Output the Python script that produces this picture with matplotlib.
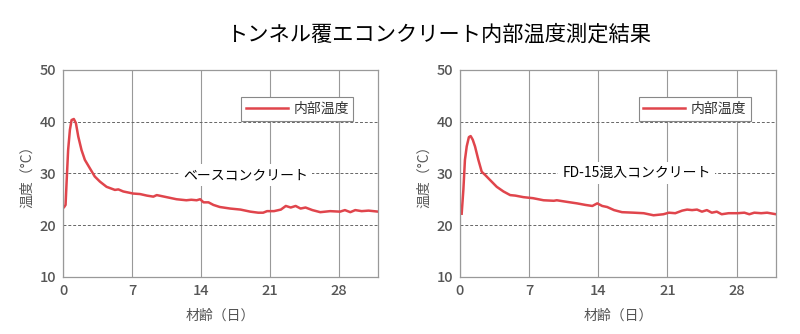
import matplotlib
matplotlib.use('Agg')
import matplotlib.pyplot as plt

plt.rcParams['font.family'] = ['Noto Sans CJK JP', 'DejaVu Sans']

# Base concrete (left panel)
base_day = [0.1, 0.24, 0.34, 0.5, 0.68, 0.85, 1.08, 1.29, 1.53, 1.86, 2.2, 2.7, 3.2, 3.73,
            4.4, 5.25, 5.6, 6.1, 7.1, 7.8, 8.5, 9.15, 9.5, 10.5, 11.5, 12.5, 13.0, 13.55,
            13.9, 14.25, 14.75, 15.25, 15.9, 16.95, 18.0, 19.0, 19.8, 20.3, 20.7, 21.4,
            22.1, 22.6, 23.1, 23.6, 24.1, 24.6, 25.3, 26.1, 27.1, 28.1, 28.6, 29.15,
            29.65, 30.3, 31.0, 32.0]
base_temp = [23.5, 23.9, 28.1, 34.5, 38.4, 40.3, 40.5, 39.7, 37.1, 34.5, 32.6, 31.0, 29.4, 28.4,
             27.4, 26.8, 26.9, 26.5, 26.1, 26.0, 25.7, 25.5, 25.8, 25.4, 25.0, 24.8, 24.9, 24.8,
             25.0, 24.4, 24.4, 23.9, 23.5, 23.2, 23.0, 22.6, 22.4, 22.4, 22.7, 22.7,
             23.0, 23.7, 23.4, 23.7, 23.2, 23.4, 22.9, 22.5, 22.7, 22.6, 22.9, 22.5,
             22.9, 22.7, 22.8, 22.6]

# FD-15 mixed concrete (right panel)
fd_day = [0.17, 0.34, 0.5, 0.68, 0.9, 1.08, 1.29, 1.52, 1.86, 2.2, 2.54, 3.05, 3.72, 4.4,
          5.08, 5.6, 6.43, 7.4, 8.46, 9.5, 9.8, 10.8, 11.85, 12.7, 13.4, 13.9, 14.4, 14.9,
          15.6, 16.4, 17.6, 18.6, 19.6, 20.6, 21.15, 21.8, 22.5, 23.0, 23.5, 24.0, 24.5,
          25.0, 25.5, 26.0, 26.5, 27.2, 28.1, 28.8, 29.3, 29.8, 30.5, 31.1, 32.0]
fd_temp = [22.2, 26.8, 32.6, 35.2, 37.0, 37.2, 36.5, 35.2, 32.6, 30.3, 29.7, 28.7, 27.4, 26.5,
           25.8, 25.7, 25.4, 25.2, 24.8, 24.7, 24.8, 24.5, 24.2, 23.9, 23.7, 24.2, 23.7, 23.5,
           22.9, 22.5, 22.4, 22.3, 21.9, 22.1, 22.4, 22.3, 22.8, 23.0, 22.9, 23.0, 22.6,
           22.9, 22.4, 22.6, 22.1, 22.3, 22.3, 22.4, 22.1, 22.4, 22.3, 22.4, 22.1]

x_ticks = [0, 7, 14, 21, 28]
y_ticks = [10, 20, 30, 40, 50]

panels = [
    ([0.079, 0.171, 0.394, 0.62], base_day, base_temp, 'ベースコンクリート', (18.5, 29.7)),
    ([0.575, 0.171, 0.395, 0.62], fd_day, fd_temp, 'FD-15混入コンクリート', (17.9, 30.1)),
]

line_color = '#e0454c'
tick_color = '#555555'

fig = plt.figure(figsize=(8, 3.34), dpi=100)

for rect, days, temps, note, note_xy in panels:
    ax = fig.add_axes(rect)
    ax.plot(days, temps, color=line_color, lw=1.8, label='内部温度')
    ax.set_xlim(0, 32)
    ax.set_ylim(10, 50)
    ax.set_xticks(x_ticks)
    ax.set_yticks(y_ticks)
    ax.tick_params(length=0, labelsize=10.5, labelcolor=tick_color, pad=5)
    for lab in ax.get_xticklabels() + ax.get_yticklabels():
        lab.set_fontweight('medium')
    ax.xaxis.grid(True, color='#999999', lw=0.8, ls='-')
    ax.yaxis.grid(True, color='#666666', lw=0.7, ls=(0, (3, 2)))
    ax.set_axisbelow(True)
    for s in ax.spines.values():
        s.set_color('#999999')
        s.set_linewidth(0.9)
    ax.set_xlabel('材齢（日）', color=tick_color, fontsize=10, labelpad=8)
    ax.set_ylabel('温度（°C）', color=tick_color, fontsize=10, labelpad=4)
    ax.text(note_xy[0], note_xy[1], note, ha='center', va='center', fontsize=10,
            color='black', bbox=dict(facecolor='white', edgecolor='none', pad=3))
    leg = ax.legend(loc='upper right', bbox_to_anchor=(0.943, 0.9), fontsize=10,
                    fancybox=False, framealpha=1, edgecolor='#888888',
                    handlelength=3.0, borderpad=0.35, handletextpad=0.4)
    leg.get_frame().set_linewidth(0.8)
    for t in leg.get_texts():
        t.set_color('#333333')

fig.text(0.548, 0.895, 'トンネル覆エコンクリート内部温度測定結果', ha='center', va='center',
         fontsize=15.3, color='black')

fig.savefig('out.png', dpi=100, facecolor='white')
